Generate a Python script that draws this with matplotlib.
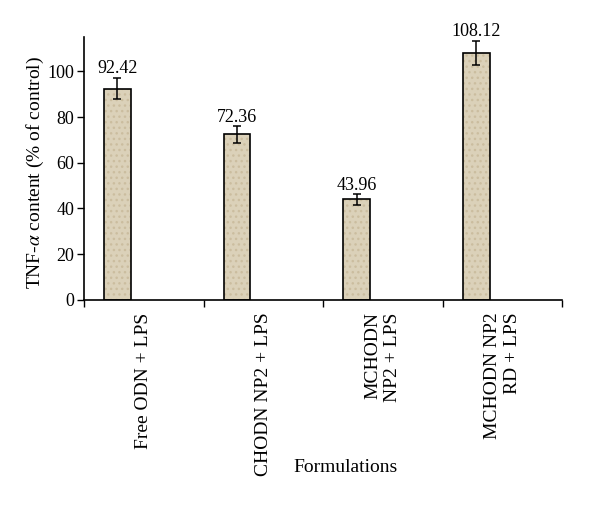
import numpy as np
import matplotlib
matplotlib.use("Agg")
from matplotlib import pyplot as plt

# data
formulations = ["Free ODN + LPS", "CHODN NP2 + LPS", "MCHODN\nNP2 + LPS", "MCHODN NP2\nRD + LPS"]
tnf_values = [92.42, 72.36, 43.96, 108.12]
tnf_errors = [4.7, 3.6, 2.3, 5.2]

plt.rcParams["font.family"] = ["Liberation Serif", "DejaVu Serif"]
plt.rcParams["mathtext.fontset"] = "stix"
plt.rcParams["font.size"] = 13

fig = plt.figure(figsize=(6, 5.25), dpi=100)
ax = fig.add_axes([0.14, 0.4286, 0.797, 0.501])

x = np.arange(len(formulations))
bar_left = x + 0.167
bar_w = 0.225

# textured beige fill
ax.bar(bar_left, tnf_values, width=bar_w, align="edge", color="#dbd1b9",
       edgecolor="#cbbd9f", hatch="...", linewidth=0)
ax.bar(bar_left, tnf_values, width=bar_w, align="edge", color="none",
       edgecolor="black", linewidth=1.2)
ax.errorbar(bar_left + bar_w / 2, tnf_values, yerr=tnf_errors, fmt="none",
            ecolor="black", elinewidth=1.1, capsize=3, capthick=1.1)

for xi, v, e in zip(bar_left + bar_w / 2, tnf_values, tnf_errors):
    ax.text(xi, v + e + 0.2, f"{v:.2f}", ha="center", va="bottom", fontsize=13)

ax.set_xlim(0, len(formulations))
ax.set_ylim(0, 115)
ax.set_yticks([0, 20, 40, 60, 80, 100])

ax.set_xticks(np.arange(len(formulations) + 1))
ax.set_xticklabels([])
ax.set_xticks(x + 0.5, minor=True)
ax.set_xticklabels(formulations, minor=True, rotation=90, ha="center",
                   va="top", multialignment="right", fontsize=14)
ax.tick_params(axis="x", which="minor", length=0, pad=9)
ax.tick_params(axis="x", which="major", length=5, width=1)
ax.tick_params(axis="y", length=5, width=1, pad=2)

ax.spines["top"].set_visible(False)
ax.spines["right"].set_visible(False)
ax.spines["left"].set_linewidth(1.2)
ax.spines["bottom"].set_linewidth(1.2)

ax.set_ylabel(r"TNF-$\alpha$ content (% of control)", fontsize=14)
ax.yaxis.set_label_coords(-0.08, 0.483)
ax.set_xlabel("Formulations", fontsize=14)
ax.xaxis.set_label_coords(0.546, -0.605)

fig.savefig("out.png", dpi=100)
